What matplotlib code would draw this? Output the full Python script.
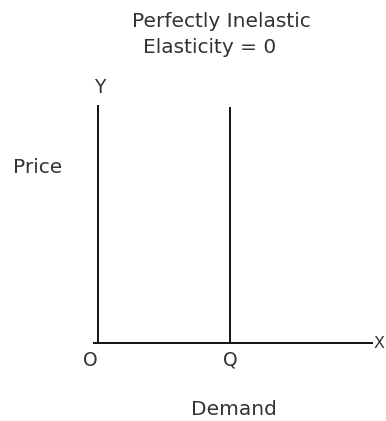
import matplotlib
matplotlib.use("Agg")
from matplotlib import pyplot as plt

# demand schedule: quantity stays fixed whatever the price
quantity = [4.8, 4.8]
price = [0, 9.9]
x_range = [-0.18, 10]
y_range = [0, 10]

title_lines = ["Perfectly Inelastic", "Elasticity = 0"]
text_color = "#333333"
line_color = "#111111"

W, H = 386, 421


def fx(px):
    return px / W


def fy(py):
    return 1 - py / H


fig = plt.figure(figsize=(W / 100, H / 100), dpi=100)
ax = fig.add_axes([fx(93), fy(343), (373 - 93) / W, (343 - 105) / H])
ax.set_xlim(x_range)
ax.set_ylim(y_range)
ax.axis("off")

# axes drawn as plain lines
ax.plot(x_range, [0, 0], color=line_color, lw=1.4, solid_capstyle="butt", clip_on=False)
ax.plot([0, 0], y_range, color=line_color, lw=1.4, solid_capstyle="butt", clip_on=False)

# the demand curve
ax.plot(quantity, price, color=line_color, lw=1.4, solid_capstyle="butt", clip_on=False)

big = 14.5
small = 13.5
fig.text(fx(221), fy(27), title_lines[0], ha="center", va="baseline", fontsize=big, color=text_color)
fig.text(fx(210), fy(53), title_lines[1], ha="center", va="baseline", fontsize=big, color=text_color)
fig.text(fx(38), fy(173), "Price", ha="center", va="baseline", fontsize=big, color=text_color)
fig.text(fx(234), fy(415), "Demand", ha="center", va="baseline", fontsize=big, color=text_color)

# axis letters, Q placed under the demand line
ax.annotate("Y", (0, y_range[1]), xytext=(2, 12), textcoords="offset pixels",
            ha="center", va="baseline", fontsize=small, color=text_color, annotation_clip=False)
ax.annotate("O", (0, 0), xytext=(-8, -23), textcoords="offset pixels",
            ha="center", va="baseline", fontsize=small, color=text_color, annotation_clip=False)
ax.annotate("Q", (quantity[0], 0), xytext=(0, -23), textcoords="offset pixels",
            ha="center", va="baseline", fontsize=small, color=text_color, annotation_clip=False)
ax.annotate("X", (x_range[1], 0), xytext=(1, -5), textcoords="offset pixels",
            ha="left", va="baseline", fontsize=11.5, color=text_color, annotation_clip=False)

fig.savefig("out.png", dpi=100)
